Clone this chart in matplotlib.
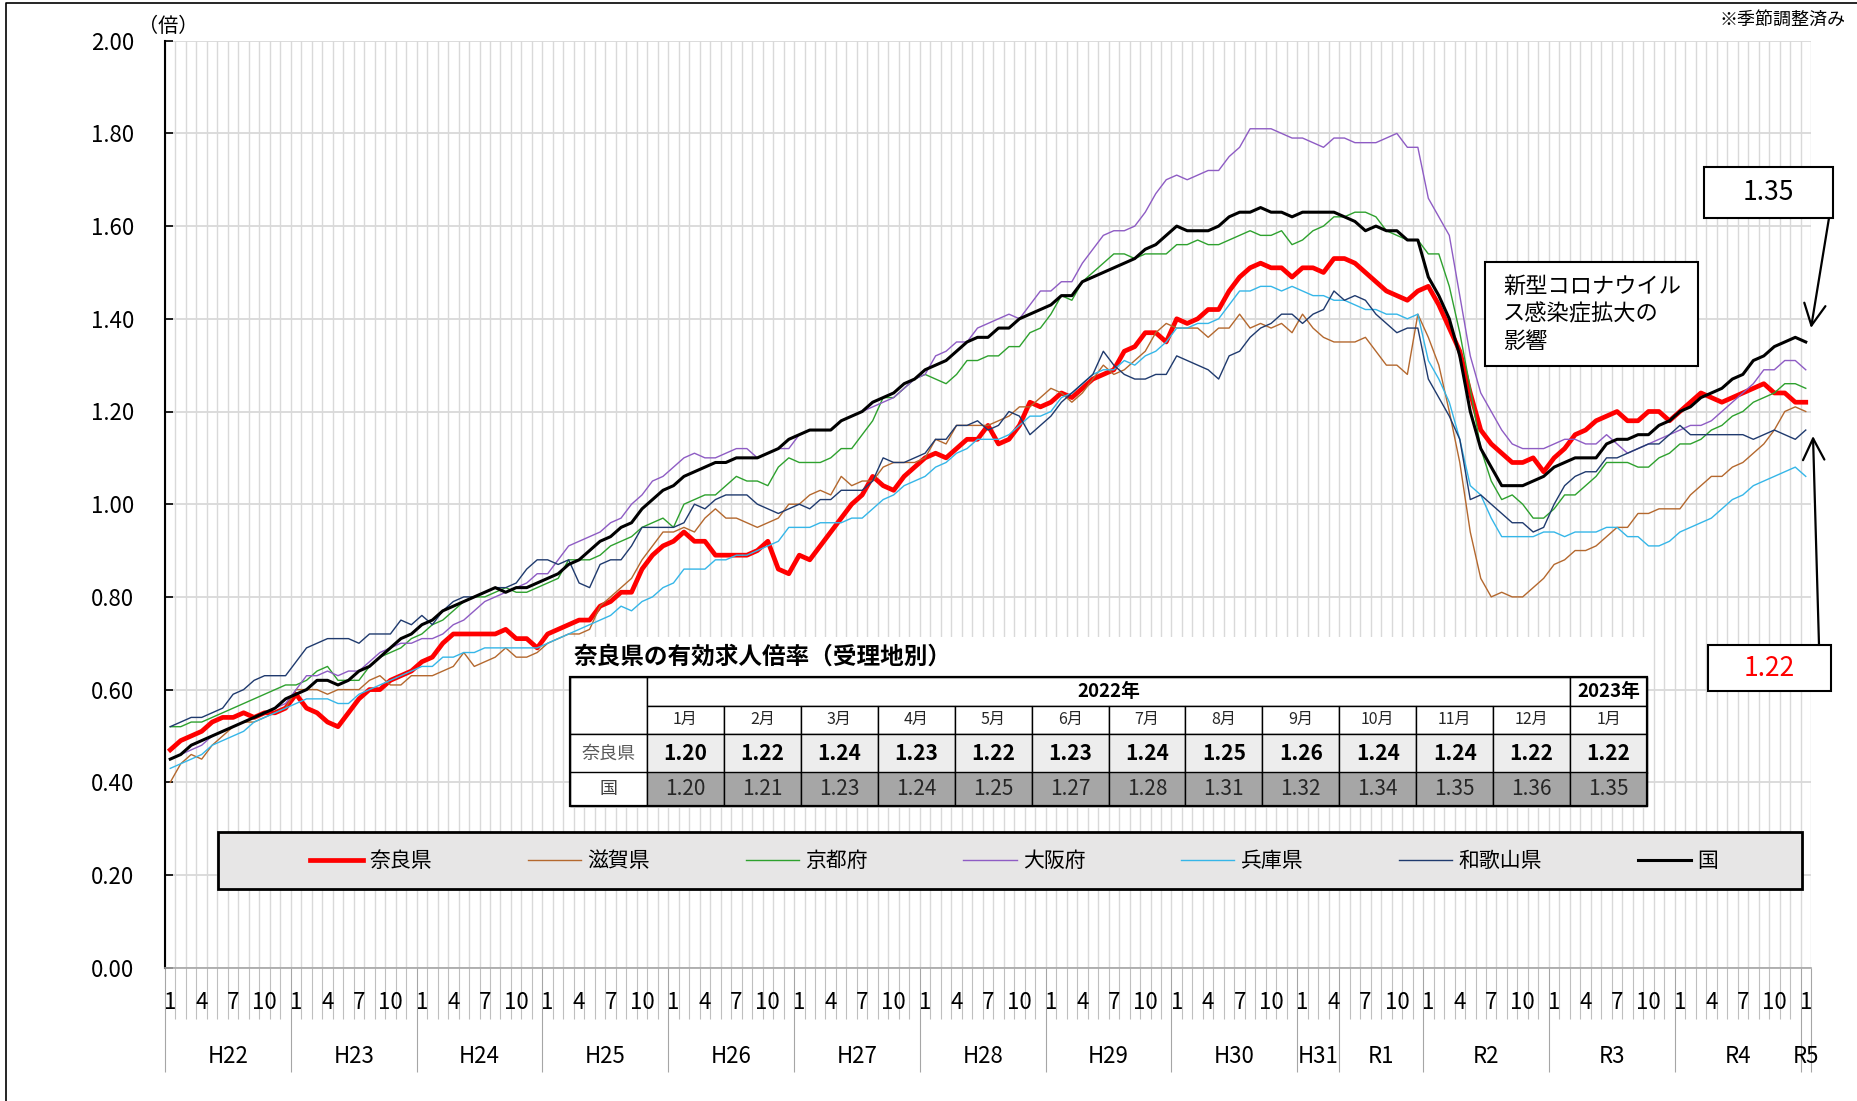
import numpy as np
import matplotlib
matplotlib.use("Agg")
import matplotlib.pyplot as plt
from matplotlib.patches import Rectangle, FancyArrowPatch
from matplotlib.lines import Line2D

plt.rcParams['font.family'] = ['Noto Sans CJK JP', 'DejaVu Sans']

# --- data: monthly, Jan 2010 (H22) .. Jan 2023 (R5), 157 points ---
nara = [0.47, 0.49, 0.50, 0.51, 0.53, 0.54, 0.54, 0.55, 0.54, 0.55, 0.55, 0.56,
        0.59, 0.56, 0.55, 0.53, 0.52, 0.55, 0.58, 0.60, 0.60, 0.62, 0.63, 0.64,
        0.66, 0.67, 0.70, 0.72, 0.72, 0.72, 0.72, 0.72, 0.73, 0.71, 0.71, 0.69,
        0.72, 0.73, 0.74, 0.75, 0.75, 0.78, 0.79, 0.81, 0.81, 0.86, 0.89, 0.91,
        0.92, 0.94, 0.92, 0.92, 0.89, 0.89, 0.89, 0.89, 0.90, 0.92, 0.86, 0.85,
        0.89, 0.88, 0.91, 0.94, 0.97, 1.00, 1.02, 1.06, 1.04, 1.03, 1.06, 1.08,
        1.10, 1.11, 1.10, 1.12, 1.14, 1.14, 1.17, 1.13, 1.14, 1.17, 1.22, 1.21,
        1.22, 1.24, 1.23, 1.25, 1.27, 1.28, 1.29, 1.33, 1.34, 1.37, 1.37, 1.35,
        1.40, 1.39, 1.40, 1.42, 1.42, 1.46, 1.49, 1.51, 1.52, 1.51, 1.51, 1.49,
        1.51, 1.51, 1.50, 1.53, 1.53, 1.52, 1.50, 1.48, 1.46, 1.45, 1.44, 1.46,
        1.47, 1.43, 1.38, 1.33, 1.24, 1.16, 1.13, 1.11, 1.09, 1.09, 1.10, 1.07,
        1.10, 1.12, 1.15, 1.16, 1.18, 1.19, 1.20, 1.18, 1.18, 1.20, 1.20, 1.18,
        1.20, 1.22, 1.24, 1.23, 1.22, 1.23, 1.24, 1.25, 1.26, 1.24, 1.24, 1.22,
        1.22]
shiga = [0.40, 0.44, 0.46, 0.45, 0.48, 0.50, 0.52, 0.53, 0.53, 0.54, 0.55, 0.56,
         0.60, 0.60, 0.60, 0.59, 0.60, 0.60, 0.60, 0.62, 0.63, 0.61, 0.61, 0.63,
         0.63, 0.63, 0.64, 0.65, 0.68, 0.65, 0.66, 0.67, 0.69, 0.67, 0.67, 0.68,
         0.70, 0.71, 0.72, 0.72, 0.73, 0.78, 0.80, 0.82, 0.84, 0.88, 0.91, 0.94,
         0.94, 0.95, 0.94, 0.97, 0.99, 0.97, 0.97, 0.96, 0.95, 0.96, 0.97, 1.00,
         1.00, 1.02, 1.03, 1.02, 1.06, 1.04, 1.05, 1.05, 1.08, 1.09, 1.09, 1.09,
         1.10, 1.14, 1.13, 1.17, 1.17, 1.17, 1.17, 1.18, 1.19, 1.21, 1.21, 1.23,
         1.25, 1.24, 1.22, 1.24, 1.27, 1.30, 1.28, 1.29, 1.31, 1.33, 1.37, 1.39,
         1.38, 1.38, 1.38, 1.36, 1.38, 1.38, 1.41, 1.38, 1.39, 1.38, 1.39, 1.37,
         1.41, 1.38, 1.36, 1.35, 1.35, 1.35, 1.36, 1.33, 1.30, 1.30, 1.28, 1.41,
         1.36, 1.30, 1.20, 1.09, 0.94, 0.84, 0.80, 0.81, 0.80, 0.80, 0.82, 0.84,
         0.87, 0.88, 0.90, 0.90, 0.91, 0.93, 0.95, 0.95, 0.98, 0.98, 0.99, 0.99,
         0.99, 1.02, 1.04, 1.06, 1.06, 1.08, 1.09, 1.11, 1.13, 1.16, 1.20, 1.21,
         1.20]
kyoto = [0.52, 0.52, 0.53, 0.53, 0.54, 0.55, 0.56, 0.57, 0.58, 0.59, 0.60, 0.61,
         0.61, 0.62, 0.64, 0.65, 0.62, 0.62, 0.62, 0.65, 0.67, 0.68, 0.69, 0.71,
         0.72, 0.74, 0.75, 0.77, 0.79, 0.80, 0.80, 0.81, 0.82, 0.81, 0.81, 0.82,
         0.83, 0.84, 0.88, 0.88, 0.88, 0.89, 0.91, 0.92, 0.93, 0.95, 0.96, 0.97,
         0.95, 1.00, 1.01, 1.02, 1.02, 1.04, 1.06, 1.05, 1.05, 1.04, 1.08, 1.10,
         1.09, 1.09, 1.09, 1.10, 1.12, 1.12, 1.15, 1.18, 1.23, 1.23, 1.25, 1.27,
         1.28, 1.27, 1.26, 1.28, 1.31, 1.31, 1.32, 1.32, 1.34, 1.34, 1.37, 1.38,
         1.41, 1.45, 1.44, 1.48, 1.50, 1.52, 1.54, 1.54, 1.53, 1.54, 1.54, 1.54,
         1.56, 1.56, 1.57, 1.56, 1.56, 1.57, 1.58, 1.59, 1.58, 1.58, 1.59, 1.56,
         1.57, 1.59, 1.60, 1.62, 1.62, 1.63, 1.63, 1.62, 1.59, 1.58, 1.57, 1.57,
         1.54, 1.54, 1.47, 1.37, 1.25, 1.12, 1.05, 1.01, 1.02, 1.00, 0.97, 0.97,
         0.99, 1.02, 1.02, 1.04, 1.06, 1.09, 1.09, 1.09, 1.08, 1.08, 1.10, 1.11,
         1.13, 1.13, 1.14, 1.16, 1.17, 1.19, 1.20, 1.22, 1.23, 1.24, 1.26, 1.26,
         1.25]
osaka = [0.45, 0.46, 0.47, 0.48, 0.50, 0.51, 0.52, 0.53, 0.54, 0.55, 0.56, 0.57,
         0.60, 0.63, 0.63, 0.64, 0.63, 0.64, 0.64, 0.66, 0.68, 0.69, 0.70, 0.70,
         0.71, 0.71, 0.72, 0.74, 0.75, 0.77, 0.79, 0.80, 0.81, 0.82, 0.83, 0.85,
         0.85, 0.88, 0.91, 0.92, 0.93, 0.94, 0.96, 0.97, 1.00, 1.02, 1.05, 1.06,
         1.08, 1.10, 1.11, 1.10, 1.10, 1.11, 1.12, 1.12, 1.10, 1.11, 1.12, 1.12,
         1.15, 1.16, 1.16, 1.16, 1.18, 1.19, 1.20, 1.21, 1.22, 1.23, 1.25, 1.27,
         1.28, 1.32, 1.33, 1.35, 1.35, 1.38, 1.39, 1.40, 1.41, 1.40, 1.43, 1.46,
         1.46, 1.48, 1.48, 1.52, 1.55, 1.58, 1.59, 1.59, 1.60, 1.63, 1.67, 1.70,
         1.71, 1.70, 1.71, 1.72, 1.72, 1.75, 1.77, 1.81, 1.81, 1.81, 1.80, 1.79,
         1.79, 1.78, 1.77, 1.79, 1.79, 1.78, 1.78, 1.78, 1.79, 1.80, 1.77, 1.77,
         1.66, 1.62, 1.58, 1.45, 1.32, 1.24, 1.20, 1.16, 1.13, 1.12, 1.12, 1.12,
         1.13, 1.14, 1.14, 1.13, 1.13, 1.15, 1.13, 1.11, 1.12, 1.13, 1.14, 1.15,
         1.16, 1.17, 1.17, 1.18, 1.20, 1.22, 1.24, 1.26, 1.29, 1.29, 1.31, 1.31,
         1.29]
hyogo = [0.43, 0.44, 0.45, 0.46, 0.48, 0.49, 0.50, 0.51, 0.53, 0.54, 0.55, 0.56,
         0.57, 0.58, 0.58, 0.58, 0.57, 0.57, 0.59, 0.60, 0.61, 0.62, 0.63, 0.64,
         0.65, 0.65, 0.67, 0.67, 0.68, 0.68, 0.69, 0.69, 0.69, 0.69, 0.69, 0.69,
         0.70, 0.71, 0.72, 0.73, 0.74, 0.75, 0.76, 0.78, 0.77, 0.79, 0.80, 0.82,
         0.83, 0.86, 0.86, 0.86, 0.88, 0.88, 0.89, 0.89, 0.90, 0.91, 0.92, 0.95,
         0.95, 0.95, 0.96, 0.96, 0.96, 0.97, 0.97, 0.99, 1.01, 1.02, 1.04, 1.05,
         1.06, 1.08, 1.09, 1.11, 1.12, 1.14, 1.14, 1.14, 1.15, 1.17, 1.19, 1.19,
         1.20, 1.23, 1.24, 1.26, 1.28, 1.29, 1.29, 1.31, 1.30, 1.32, 1.33, 1.35,
         1.38, 1.38, 1.39, 1.39, 1.40, 1.43, 1.46, 1.46, 1.47, 1.47, 1.46, 1.47,
         1.46, 1.45, 1.45, 1.44, 1.44, 1.43, 1.42, 1.42, 1.41, 1.41, 1.40, 1.41,
         1.31, 1.27, 1.22, 1.14, 1.04, 1.02, 0.97, 0.93, 0.93, 0.93, 0.93, 0.94,
         0.94, 0.93, 0.94, 0.94, 0.94, 0.95, 0.95, 0.93, 0.93, 0.91, 0.91, 0.92,
         0.94, 0.95, 0.96, 0.97, 0.99, 1.01, 1.02, 1.04, 1.05, 1.06, 1.07, 1.08,
         1.06]
wakayama = [0.52, 0.53, 0.54, 0.54, 0.55, 0.56, 0.59, 0.60, 0.62, 0.63, 0.63, 0.63,
            0.66, 0.69, 0.70, 0.71, 0.71, 0.71, 0.70, 0.72, 0.72, 0.72, 0.75, 0.74,
            0.76, 0.74, 0.77, 0.79, 0.80, 0.80, 0.81, 0.82, 0.82, 0.83, 0.86, 0.88,
            0.88, 0.87, 0.88, 0.83, 0.82, 0.87, 0.88, 0.88, 0.91, 0.95, 0.95, 0.95,
            0.95, 0.96, 1.00, 0.99, 1.01, 1.02, 1.02, 1.02, 1.00, 0.99, 0.98, 0.99,
            1.00, 0.99, 1.01, 1.01, 1.03, 1.03, 1.03, 1.05, 1.10, 1.09, 1.09, 1.10,
            1.11, 1.14, 1.14, 1.17, 1.17, 1.18, 1.16, 1.17, 1.20, 1.19, 1.15, 1.17,
            1.19, 1.22, 1.24, 1.26, 1.28, 1.33, 1.30, 1.28, 1.27, 1.27, 1.28, 1.28,
            1.32, 1.31, 1.30, 1.29, 1.27, 1.32, 1.33, 1.36, 1.38, 1.39, 1.41, 1.41,
            1.39, 1.41, 1.42, 1.46, 1.44, 1.45, 1.44, 1.41, 1.39, 1.37, 1.38, 1.38,
            1.27, 1.23, 1.19, 1.14, 1.01, 1.02, 1.00, 0.98, 0.96, 0.96, 0.94, 0.95,
            1.00, 1.04, 1.06, 1.07, 1.07, 1.10, 1.10, 1.11, 1.12, 1.13, 1.13, 1.15,
            1.17, 1.15, 1.15, 1.15, 1.15, 1.15, 1.15, 1.14, 1.15, 1.16, 1.15, 1.14,
            1.16]
kuni = [0.45, 0.46, 0.48, 0.49, 0.50, 0.51, 0.52, 0.53, 0.54, 0.55, 0.56, 0.58,
        0.59, 0.60, 0.62, 0.62, 0.61, 0.62, 0.64, 0.65, 0.67, 0.69, 0.71, 0.72,
        0.74, 0.75, 0.77, 0.78, 0.79, 0.80, 0.81, 0.82, 0.81, 0.82, 0.82, 0.83,
        0.84, 0.85, 0.87, 0.88, 0.90, 0.92, 0.93, 0.95, 0.96, 0.99, 1.01, 1.03,
        1.04, 1.06, 1.07, 1.08, 1.09, 1.09, 1.10, 1.10, 1.10, 1.11, 1.12, 1.14,
        1.15, 1.16, 1.16, 1.16, 1.18, 1.19, 1.20, 1.22, 1.23, 1.24, 1.26, 1.27,
        1.29, 1.30, 1.31, 1.33, 1.35, 1.36, 1.36, 1.38, 1.38, 1.40, 1.41, 1.42,
        1.43, 1.45, 1.45, 1.48, 1.49, 1.50, 1.51, 1.52, 1.53, 1.55, 1.56, 1.58,
        1.60, 1.59, 1.59, 1.59, 1.60, 1.62, 1.63, 1.63, 1.64, 1.63, 1.63, 1.62,
        1.63, 1.63, 1.63, 1.63, 1.62, 1.61, 1.59, 1.60, 1.59, 1.59, 1.57, 1.57,
        1.49, 1.45, 1.40, 1.32, 1.20, 1.12, 1.08, 1.04, 1.04, 1.04, 1.05, 1.06,
        1.08, 1.09, 1.10, 1.10, 1.10, 1.13, 1.14, 1.14, 1.15, 1.15, 1.17, 1.18,
        1.20, 1.21, 1.23, 1.24, 1.25, 1.27, 1.28, 1.31, 1.32, 1.34, 1.35, 1.36,
        1.35]

series_names = ['奈良県', '滋賀県', '京都府', '大阪府', '兵庫県', '和歌山県', '国']
series_data = [nara, shiga, kyoto, osaka, hyogo, wakayama, kuni]
series_colors = ['#FF0000', '#B4682E', '#2EA12E', '#8E5CC4', '#35B6E8', '#1F3A6E', '#000000']
series_widths = [3.4, 1.0, 1.0, 1.0, 1.0, 1.0, 2.2]

era_labels = ['H22', 'H23', 'H24', 'H25', 'H26', 'H27', 'H28', 'H29', 'H30',
              'H31', 'R1', 'R2', 'R3', 'R4', 'R5']
era_months = [12, 12, 12, 12, 12, 12, 12, 12, 12, 4, 8, 12, 12, 12, 1]
shown_months = [1, 4, 7, 10]

# inset table (2022年1月 .. 2023年1月)
table_months = ['1月', '2月', '3月', '4月', '5月', '6月', '7月', '8月', '9月',
                '10月', '11月', '12月', '1月']
table_nara = ['1.20', '1.22', '1.24', '1.23', '1.22', '1.23', '1.24', '1.25',
              '1.26', '1.24', '1.24', '1.22', '1.22']
table_kuni = ['1.20', '1.21', '1.23', '1.24', '1.25', '1.27', '1.28', '1.31',
              '1.32', '1.34', '1.35', '1.36', '1.35']

# --- figure ---
W, H = 1858, 1101
fig = plt.figure(figsize=(W / 100, H / 100), dpi=100)

def fx(x):
    return x / W

def fy(y):
    return 1 - y / H

ax_l, ax_r, ax_t, ax_b = 165, 1811, 40.7, 967.7
ax = fig.add_axes([fx(ax_l), fy(ax_b), fx(ax_r) - fx(ax_l), fy(ax_t) - fy(ax_b)])
ax_h = ax_b - ax_t

n = len(nara)
x = np.arange(n)
for name, vals, col, lw in zip(series_names, series_data, series_colors, series_widths):
    ax.plot(x, vals, color=col, lw=lw, label=name, zorder=3, solid_joinstyle='round')

ax.set_xlim(-0.5, n - 0.5)
ax.set_ylim(0, 2.0)

# y axis
yt = np.arange(0, 2.001, 0.2)
ax.set_yticks(yt)
ax.set_yticklabels([f'{v:.2f}' for v in yt])
ax.tick_params(axis='y', direction='in', length=6, width=1.2, color='black',
               pad=22, labelsize=16)
ax.grid(axis='y', color='#D9D9D9', lw=1.3, zorder=0)

# x axis: category boundaries, longer ticks at era boundaries
era_edges = np.concatenate([[0], np.cumsum(era_months)]) - 0.5
ax.set_xticks(era_edges)
ax.set_xticks(np.arange(-0.5, n, 1), minor=True)
ax.tick_params(axis='x', which='major', length=75, width=0.8, color='#A6A6A6',
               labelbottom=False)
ax.tick_params(axis='x', which='minor', length=37, width=0.8, color='#BFBFBF')
ax.grid(axis='x', which='both', color='#D9D9D9', lw=1.0, zorder=0)
ax.set_axisbelow(True)

for s in ['top', 'right']:
    ax.spines[s].set_visible(False)
ax.spines['left'].set_linewidth(1.5)
ax.spines['bottom'].set_color('#A6A6A6')
ax.spines['bottom'].set_linewidth(1.2)

xt = ax.get_xaxis_transform()
for i in range(n):
    m = i % 12 + 1
    if m in shown_months:
        ax.text(i, -35 / ax_h, str(m), transform=xt, ha='center', va='center',
                fontsize=16)
for lab, e0, e1 in zip(era_labels, era_edges[:-1], era_edges[1:]):
    ax.text((e0 + e1) / 2, -89 / ax_h, lab, transform=xt, ha='center',
            va='center', fontsize=16)

# legend
ax.add_patch(Rectangle((fx(218), fy(889)), fx(1802) - fx(218), fy(832) - fy(889),
                       transform=fig.transFigure, facecolor='#E7E6E6',
                       edgecolor='black', lw=2, zorder=6, clip_on=False))
leg = ax.legend(ncol=7, loc='center', bbox_to_anchor=(fx(1014), fy(861)),
                bbox_transform=fig.transFigure, frameon=False, fontsize=15,
                handlelength=2.55, handletextpad=0.3, columnspacing=4.6)
leg.set_zorder(7)

# unit / note
fig.text(fx(138), fy(27), '（倍）', fontsize=14.5, ha='left', va='center')
fig.text(fx(1846), fy(20), '※季節調整済み', fontsize=13, ha='right', va='center')

# figure border (left and top)
fig.add_artist(Line2D([fx(6), fx(6), fx(W + 5)], [fy(H + 5), fy(3), fy(3)],
                      transform=fig.transFigure, color='black', lw=1.2))

def box(x0, y0, x1, y1, fc='white', ec='black', lw=1.0, z=5):
    fig.add_artist(Rectangle((fx(x0), fy(y1)), fx(x1) - fx(x0), fy(y0) - fy(y1),
                             transform=fig.transFigure, facecolor=fc,
                             edgecolor=ec, lw=lw, zorder=z))

# --- inset table ---
tx0, tx1 = 570, 1647
c0 = 647
cw = (tx1 - c0) / len(table_months)
col_edges = [c0 + cw * k for k in range(len(table_months) + 1)]
r = [677, 705.5, 734, 772.5, 806]

box(tx0, 637, tx1, 808, fc='white', ec='none', z=4)
fig.text(fx(574), fy(657), '奈良県の有効求人倍率（受理地別）', fontsize=17,
         fontweight='bold', ha='left', va='center', zorder=6)

box(tx0, r[0], c0, r[2])
box(c0, r[0], col_edges[12], r[1])
box(col_edges[12], r[0], tx1, r[1])
fig.text(fx((c0 + col_edges[12]) / 2), fy((r[0] + r[1]) / 2), '2022年',
         fontsize=13.5, fontweight='bold', ha='center', va='center', zorder=6)
fig.text(fx((col_edges[12] + tx1) / 2), fy((r[0] + r[1]) / 2), '2023年',
         fontsize=13.5, fontweight='bold', ha='center', va='center', zorder=6)

box(tx0, r[2], c0, r[3])
box(tx0, r[3], c0, r[4])
fig.text(fx((tx0 + c0) / 2), fy((r[2] + r[3]) / 2), '奈良県', fontsize=13,
         color='#595959', ha='center', va='center', zorder=6)
fig.text(fx((tx0 + c0) / 2), fy((r[3] + r[4]) / 2), '国', fontsize=13,
         color='#404040', ha='center', va='center', zorder=6)

for k, (mon, vn, vk) in enumerate(zip(table_months, table_nara, table_kuni)):
    xa, xb = col_edges[k], col_edges[k + 1]
    xc = fx((xa + xb) / 2)
    box(xa, r[1], xb, r[2])
    box(xa, r[2], xb, r[3], fc='#EDEDED')
    box(xa, r[3], xb, r[4], fc='#A6A6A6')
    fig.text(xc, fy((r[1] + r[2]) / 2), mon, fontsize=11.5, color='#262626',
             ha='center', va='center', zorder=6)
    fig.text(xc, fy((r[2] + r[3]) / 2), vn, fontsize=15, fontweight='bold',
             ha='center', va='center', zorder=6)
    fig.text(xc, fy((r[3] + r[4]) / 2), vk, fontsize=15, color='#262626',
             ha='center', va='center', zorder=6)
box(tx0, r[0], tx1, r[4], fc='none', lw=1.6, z=6)

# --- annotations ---
box(1485, 262, 1698, 366, lw=1.5)
fig.text(fx(1503), fy(314), '新型コロナウイル\nス感染症拡大の\n影響', fontsize=16,
         ha='left', va='center', linespacing=1.25, zorder=6)

box(1704, 167, 1833, 218, lw=1.5)
fig.text(fx(1768.5), fy(192.5), '1.35', fontsize=19, ha='center', va='center', zorder=6)
box(1708, 645, 1831, 691, lw=1.5)
fig.text(fx(1769.5), fy(668), '1.22', fontsize=19, color='#FF0000',
         ha='center', va='center', zorder=6)

for start, tip in [((1829, 218), (1811, 328)), ((1819, 645), (1813, 436))]:
    fig.add_artist(FancyArrowPatch((fx(start[0]), fy(start[1])), (fx(tip[0]), fy(tip[1])),
                                   transform=fig.transFigure,
                                   arrowstyle='->,head_length=0.7,head_width=0.35',
                                   mutation_scale=22, lw=1.6, color='black',
                                   shrinkA=0, shrinkB=0, zorder=7))

fig.savefig('out.png', dpi=100)
